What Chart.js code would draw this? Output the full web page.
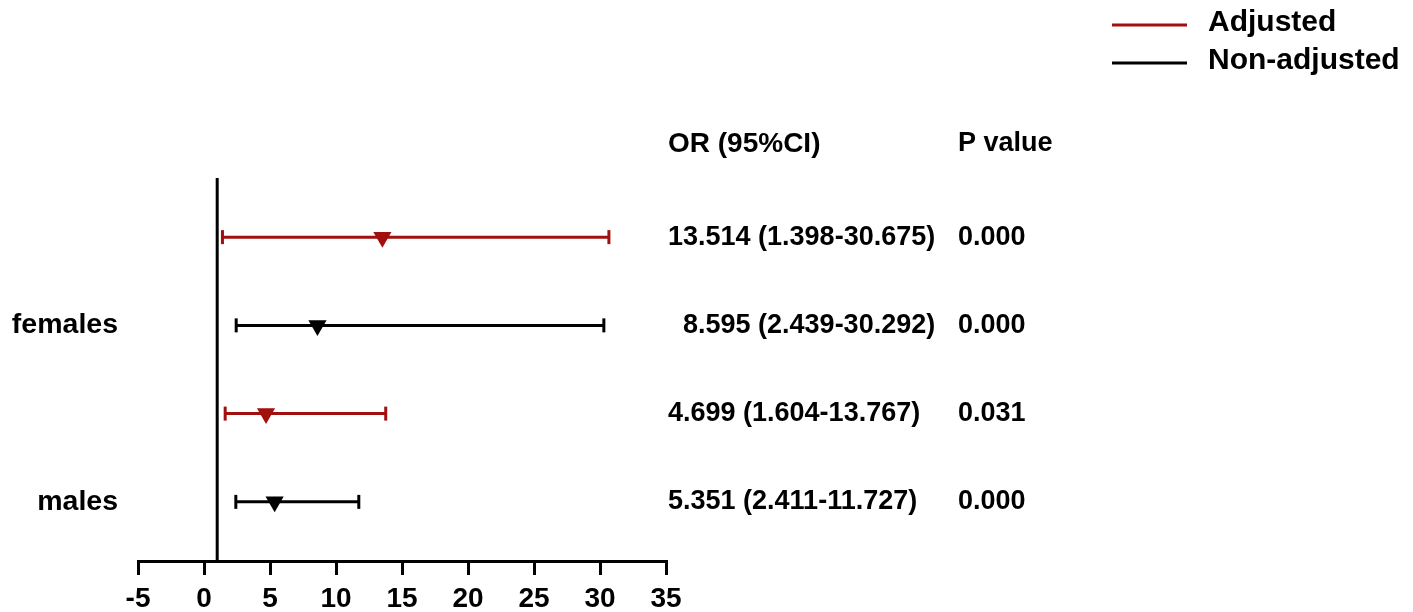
<!DOCTYPE html>
<html><head><meta charset="utf-8">
<script src="https://cdn.jsdelivr.net/npm/chart.js@4"></script>
<style>html,body{margin:0;padding:0;background:#fff;} #wrap{width:1413px;height:612px;position:relative;}</style>
</head><body><div id="wrap"><canvas id="c" width="1413" height="612"></canvas></div>
<script>
// ---- data ----
const seriesNames = ['Adjusted', 'Non-adjusted'];
const groupLabels = ['females', 'males'];
const groupRows = [3, 1];
const rowPos = [4, 3, 2, 1];
const rowSeries = [0, 1, 0, 1];
const orValues = [13.514, 8.595, 4.699, 5.351];
const ciLow = [1.398, 2.439, 1.604, 2.411];
const ciHigh = [30.675, 30.292, 13.767, 11.727];
const orText = ['13.514 (1.398-30.675)', '  8.595 (2.439-30.292)', '4.699 (1.604-13.767)', '5.351 (2.411-11.727)'];
const pText = ['0.000', '0.000', '0.031', '0.000'];
const headers = ['OR (95%CI)', 'P value'];
const xTicks = [-5, 0, 5, 10, 15, 20, 25, 30, 35];
const refValue = 1;
const yRange = [0.33, 4.67];

// ---- style ----
const colors = ['#A20F0F', '#000000'];
const FONT = '"Liberation Sans", Arial, sans-serif';
const FS = 27;

const datasets = [];
// reference line at OR = 1
datasets.push({
  type: 'line', data: [{x: refValue, y: yRange[0]}, {x: refValue, y: yRange[1]}],
  borderColor: '#000', borderWidth: 3, pointRadius: 0, showLine: true, order: 3
});
rowPos.forEach((r, i) => {
  const c = colors[rowSeries[i]];
  datasets.push({
    type: 'line', data: [{x: ciLow[i], y: r}, {x: ciHigh[i], y: r}],
    borderColor: c, borderWidth: 3, showLine: true,
    pointStyle: 'line', pointRotation: 90, pointRadius: 7, pointBorderWidth: 3,
    pointBorderColor: c, pointBackgroundColor: c, order: 2
  });
  datasets.push({
    type: 'scatter', data: [{x: orValues[i], y: r}],
    pointStyle: 'triangle', rotation: 180, pointRadius: 10.5, pointBorderWidth: 0,
    backgroundColor: c, borderColor: c, order: 1
  });
});

const textPlugin = {
  id: 'texts',
  afterDraw(chart) {
    const ctx = chart.ctx, y = chart.scales.y;
    ctx.save();
    ctx.fillStyle = '#000';
    ctx.textBaseline = 'middle';
    ctx.textAlign = 'left';
    ctx.font = 'bold 28px ' + FONT;
    ctx.fillText(headers[0], 668, 144);
    ctx.font = 'bold ' + FS + 'px ' + FONT;
    ctx.fillText(headers[1], 958, 144);
    rowPos.forEach((r, i) => {
      const py = y.getPixelForValue(r);
      ctx.fillText(orText[i], 668, py);
      ctx.fillText(pText[i], 958, py);
    });
    // legend
    ctx.font = 'bold 30px ' + FONT;
    const ly = [25, 63];
    seriesNames.forEach((n, i) => {
      ctx.strokeStyle = colors[i];
      ctx.lineWidth = 3;
      ctx.beginPath();
      ctx.moveTo(1112, ly[i]); ctx.lineTo(1187, ly[i]); ctx.stroke();
      ctx.fillText(n, 1208, ly[i] - 2);
    });
    ctx.restore();
  }
};

new Chart(document.getElementById('c'), {
  data: { datasets },
  plugins: [textPlugin],
  options: {
    responsive: false, animation: false, devicePixelRatio: 1,
    layout: { padding: { left: 0, right: 747, top: 178, bottom: 0 } },
    plugins: { legend: { display: false }, tooltip: { enabled: false } },
    scales: {
      x: {
        type: 'linear', min: xTicks[0], max: xTicks[xTicks.length - 1],
        afterBuildTicks: (ax) => { ax.ticks = xTicks.map(v => ({value: v})); },
        afterFit: (ax) => { ax.height = 51; },
        border: { display: true, color: '#000', width: 3 },
        grid: { display: true, drawOnChartArea: false, drawTicks: true, tickLength: 14, color: '#000', lineWidth: 3 },
        ticks: { color: '#000', font: { family: FONT, size: 28, weight: 'bold' }, padding: 7, maxRotation: 0, autoSkip: false }
      },
      y: {
        type: 'linear', min: yRange[0], max: yRange[1],
        afterBuildTicks: (ax) => { ax.ticks = groupRows.map(v => ({value: v})); },
        afterFit: (ax) => { ax.width = 138; },
        border: { display: false },
        grid: { display: false, drawTicks: false },
        ticks: {
          color: '#000', font: { family: FONT, size: 28.5, weight: 'bold' }, padding: 20, autoSkip: false,
          callback: (v) => { const k = groupRows.indexOf(v); return k >= 0 ? groupLabels[k] : ''; }
        }
      }
    }
  }
});
</script></body></html>
